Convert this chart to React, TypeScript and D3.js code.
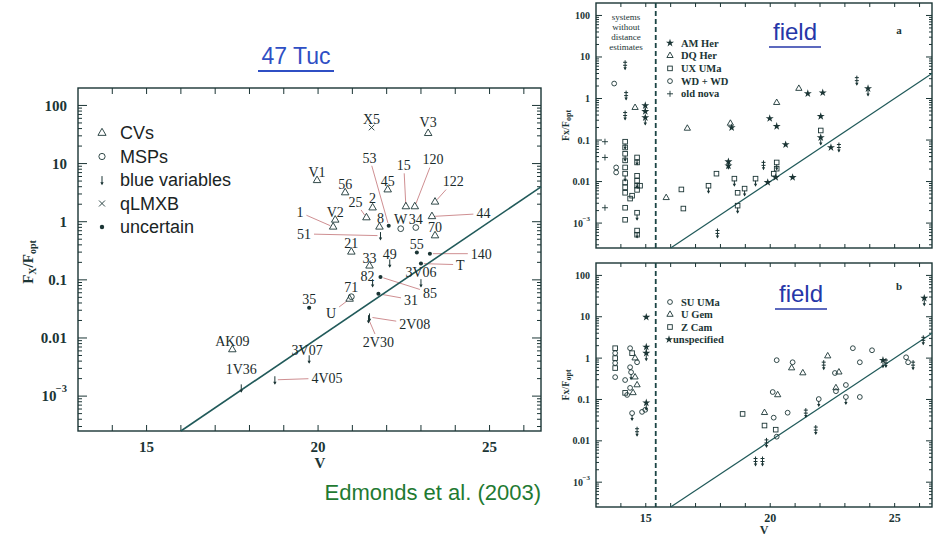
import { useEffect, useRef } from 'react'
import * as d3 from 'd3'

// ---- 47 Tuc panel: sources (label, class, V, log10 Fx/Fopt, label position in data units)
const tucLabels = ['X5', 'V3', 'V1', '56', '45', '2', '25', '53', '8', '15', '120', '122', 'W', '34', '44', '70', '1', 'V2', '51', '21', '33', '49', '55', '140', 'T', '3V06', '85', '82', '31', '71', 'U', '35', '2V08', '2V30', '3V07', '4V05', '1V36', 'AK09']
// t = CV, c = MSP, a = blue variable, x = qLMXB, d = uncertain
const tucClass = ['x', 't', 't', 't', 't', 't', 't', 'd', 't', 't', 't', 't', 'c', 'c', 't', 't', 't', 't', 'a', 't', 't', 'a', 'd', 'd', 'd', 'a', 'd', 'a', 'd', 'c', 't', 'd', 'a', 'a', 'a', 'a', 'a', 't']
const tucV = [21.56, 23.21, 19.97, 20.79, 22.03, 21.59, 21.41, 22.06, 21.79, 22.56, 22.82, 23.41, 22.41, 22.85, 23.32, 23.41, 20.44, 20.5, 21.82, 20.97, 21.5, 22.09, 22.88, 23.26, 23.0, 23.0, 21.82, 21.59, 21.76, 20.97, 20.92, 19.74, 21.5, 21.47, 19.74, 18.74, 17.76, 17.5]
const tucLogR = [1.62, 1.52, 0.71, 0.5, 0.55, 0.24, 0.07, -0.07, -0.09, 0.26, 0.26, 0.34, -0.12, -0.1, 0.09, -0.24, -0.09, 0.03, -0.24, -0.52, -0.76, -0.71, -0.53, -0.55, -0.72, -1.05, -0.95, -1.05, -1.24, -1.29, -1.33, -1.48, -1.64, -1.67, -2.36, -2.72, -2.86, -2.2]
const tucLabelV = [21.56, 23.21, 19.97, 20.79, 22.03, 21.59, 21.09, 21.5, 21.82, 22.5, 23.35, 23.94, 22.41, 22.85, 24.82, 23.41, 19.47, 20.5, 19.59, 20.97, 21.5, 22.09, 22.88, 24.76, 24.15, 23.0, 23.26, 21.44, 22.71, 20.97, 20.38, 19.74, 22.82, 21.76, 19.68, 20.26, 17.76, 17.5]
const tucLabelLogR = [1.76, 1.72, 0.86, 0.64, 0.69, 0.4, 0.34, 1.1, 0.07, 0.97, 1.07, 0.69, 0.05, 0.05, 0.14, -0.1, 0.16, 0.17, -0.21, -0.36, -0.62, -0.55, -0.38, -0.55, -0.74, -0.86, -1.22, -0.93, -1.34, -1.12, -1.57, -1.33, -1.76, -2.07, -2.21, -2.69, -2.53, -2.05]
const tucLeader = ['25', '53', '15', '120', '122', '44', '1', '51', '140', 'T', '85', '31', 'U', '2V08', '2V30', '4V05']
const tucLegend = ['CVs', 'MSPs', 'blue variables', 'qLMXB', 'uncertain']
const tucLegendKeys = ['t', 'c', 'a', 'x', 'd']

// ---- field panels: [V, log10 Fx/Fopt, symbol]; s star, t triangle, q square, c circle, p plus, l limit; 'v' = upper limit arrow
const fieldA: [number, number, string][] = [
  [14.17, 0.8, 'l'], [13.73, 0.36, 'c'], [14.21, 0.07, 'l'], [14.57, -0.22, 't'], [14.17, -0.41, 'l'],
  [14.98, -0.17, 'sv'], [14.98, -0.31, 's'], [14.98, -0.46, 'sv'], [13.36, -1.04, 'p'], [13.36, -1.42, 'p'],
  [13.81, -1.66, 'c'], [13.81, -1.78, 'c'], [14.17, -1.04, 'qv'], [14.17, -1.18, 'q'], [14.17, -1.33, 'qv'],
  [14.17, -1.49, 'q'], [14.17, -1.66, 'q'], [14.17, -1.81, 'qv'], [14.17, -2.02, 'q'], [14.17, -2.14, 'q'],
  [14.17, -2.27, 'q'], [13.36, -2.63, 'p'], [14.17, -2.63, 'q'], [14.17, -2.92, 'q'], [14.65, -1.42, 'qv'],
  [14.65, -1.54, 'q'], [14.65, -1.86, 'q'], [14.65, -1.98, 'qv'], [14.65, -2.1, 'q'], [14.77, -2.1, 'q'],
  [14.65, -2.2, 'q'], [14.45, -2.34, 'q'], [14.37, -2.41, 'q'], [14.65, -2.75, 'qv'], [14.65, -3.18, 'qv'],
  [14.65, -3.28, 'q'],
  [15.82, -2.39, 't'], [16.43, -2.19, 'q'], [16.51, -2.65, 'q'], [16.67, -0.72, 't'], [17.52, -2.1, 'qv'],
  [17.84, -1.81, 'q'], [17.88, -3.25, 'l'], [18.32, -1.52, 'sv'], [18.32, -1.62, 's'], [18.4, -0.6, 't'],
  [18.45, -0.7, 's'], [18.56, -1.93, 'qv'], [18.69, -2.27, 'q'], [18.97, -2.17, 'qv'], [18.69, -2.58, 'qv'],
  [19.41, -1.93, 'qv'], [19.73, -1.61, 'l'], [19.9, -2.02, 's'], [19.98, -0.48, 's'], [20.14, -1.81, 'q'],
  [20.22, -1.9, 's'], [20.26, -1.54, 'qv'], [20.26, -1.69, 'q'], [20.26, -0.1, 't'], [20.26, -0.67, 's'],
  [20.62, -1.11, 's'], [20.9, -1.9, 's'], [21.15, 0.24, 't'], [21.51, 0.12, 's'], [22.03, -0.43, 's'],
  [22.03, -0.77, 'q'], [22.03, -0.94, 'sv'], [22.11, 0.14, 's'], [22.44, -1.18, 's'], [22.76, -1.18, 'l'],
  [23.48, 0.43, 'l'], [23.93, 0.24, 'sv'],
]
const fieldB: [number, number, string][] = [
  [15.02, 0.99, 's'], [13.77, 0.24, 'q'], [13.77, 0.12, 'c'], [13.77, 0.0, 'q'], [13.77, -0.12, 'c'],
  [13.77, -0.24, 'q'], [13.77, -0.46, 'c'], [14.17, -0.53, 'c'], [14.37, 0.24, 'c'], [14.45, 0.12, 'q'],
  [14.57, 0.0, 't'], [14.65, -0.1, 'c'], [14.37, -0.22, 'c'], [14.41, -0.34, 'cv'], [14.57, -0.46, 't'],
  [15.02, 0.27, 'sv'], [15.02, 0.12, 'sv'], [14.17, -0.84, 'q'], [14.37, -0.72, 'c'], [14.25, -0.89, 'c'],
  [14.49, -0.84, 't'], [14.65, -0.65, 't'], [14.45, -1.33, 'cv'], [14.85, -1.3, 'c'], [14.98, -1.25, 'c'],
  [15.02, -1.08, 'sv'], [14.65, -1.78, 'l'],
  [18.89, -1.35, 'q'], [19.41, -2.5, 'l'], [19.69, -2.5, 'l'], [19.77, -1.32, 't'], [19.77, -1.63, 'q'],
  [19.85, -2.05, 'l'], [20.1, -0.82, 'c'], [20.14, -1.44, 'c'], [20.22, -1.73, 'q'], [20.26, -1.9, 'c'],
  [20.26, -0.05, 'c'], [20.3, -0.89, 't'], [20.7, -1.32, 'c'], [20.86, -0.24, 't'], [20.9, -0.1, 'c'],
  [21.31, -0.36, 't'], [21.43, -1.33, 'l'], [21.83, -1.74, 'l'], [21.95, -0.99, 'cv'], [22.15, -0.17, 'l'],
  [22.31, 0.05, 't'], [22.6, -0.36, 'c'], [22.76, -0.34, 't'], [22.64, -0.72, 't'], [22.64, -0.8, 'c'],
  [23.04, -0.65, 'c'], [23.04, -0.94, 'cv'], [23.32, 0.24, 'c'], [23.6, -0.1, 'c'], [23.6, -0.94, 'c'],
  [24.09, 0.19, 'c'], [24.53, -0.05, 'sv'], [24.65, -0.12, 'l'], [25.46, 0.02, 'c'], [25.54, -0.1, 'c'],
  [25.74, -0.17, 'l'], [26.15, 0.43, 'l'], [26.19, 1.45, 'sv'],
]
const legendA = ['AM Her', 'DQ Her', 'UX UMa', 'WD + WD', 'old nova']
const legendAKeys = ['s', 't', 'q', 'c', 'p']
const legendB = ['SU UMa', 'U Gem', 'Z Cam', 'unspecified']
const legendBKeys = ['c', 't', 'q', 's']
const noDistanceText = ['systems', 'without', 'distance', 'estimates']

// shared axes
const vDomain = [13, 26.5]
const vTickLabels = [15, 20, 25]
const logDomain = [-3.6, 2.3]
const decades = [-3, -2, -1, 0, 1, 2]
const decadeLabels = ['10', '0.01', '0.1', '1', '10', '100']
const noDistanceV = 15.4
// X-ray detection limit line
const limitV = [16, 26.5]
const limitLogR = [-3.6, 0.6]

const INK = '#1b3535'
const SERIF = '"Liberation Serif", "DejaVu Serif", serif'
const SANS = '"Liberation Sans", Arial, sans-serif'

type G = d3.Selection<SVGGElement, unknown, null, undefined>

function downArrow(g: G, x: number, y0: number, len: number) {
  g.append('path').attr('d', `M${x},${y0}V${y0 + len - 1}`).attr('stroke', INK).attr('stroke-width', 1)
  g.append('path')
    .attr('d', `M${x - 1.7},${y0 + len - 3}L${x},${y0 + len}L${x + 1.7},${y0 + len - 3}Z`)
    .attr('fill', INK)
}

function marker(g: G, key: string, x: number, y: number, k: number) {
  const t = key[0]
  const sw = 0.9
  if (t === 'c') {
    g.append('circle').attr('cx', x).attr('cy', y).attr('r', 2.4 * k)
      .attr('fill', 'none').attr('stroke', INK).attr('stroke-width', sw)
  } else if (t === 't') {
    g.append('path').attr('d', d3.symbol(d3.symbolTriangle, 17 * k * k)()!)
      .attr('transform', `translate(${x},${y})`)
      .attr('fill', 'none').attr('stroke', INK).attr('stroke-width', sw)
  } else if (t === 'q') {
    g.append('rect').attr('x', x - 2.3 * k).attr('y', y - 2.3 * k)
      .attr('width', 4.6 * k).attr('height', 4.6 * k)
      .attr('fill', 'none').attr('stroke', INK).attr('stroke-width', sw)
  } else if (t === 's') {
    g.append('path').attr('d', d3.symbol(d3.symbolStar, 20 * k * k)()!)
      .attr('transform', `translate(${x},${y})`).attr('fill', INK)
  } else if (t === 'p') {
    g.append('path').attr('d', `M${x - 3 * k},${y}H${x + 3 * k}M${x},${y - 3 * k}V${y + 3 * k}`)
      .attr('stroke', INK).attr('stroke-width', sw)
  } else if (t === 'x') {
    const r = 2.3 * k
    g.append('path').attr('d', `M${x - r},${y - r}L${x + r},${y + r}M${x - r},${y + r}L${x + r},${y - r}`)
      .attr('stroke', INK).attr('stroke-width', sw)
  } else if (t === 'd') {
    g.append('circle').attr('cx', x).attr('cy', y).attr('r', 1.7 * k).attr('fill', INK)
  } else if (t === 'a') {
    downArrow(g, x, y - 3 * k, 7 * k)
  } else if (t === 'l') {
    g.append('path').attr('d', `M${x - 2},${y - 3}H${x + 2}M${x - 2},${y}H${x + 2}`)
      .attr('stroke', INK).attr('stroke-width', 1)
    downArrow(g, x, y - 5, 10)
  }
  if (key.includes('v')) downArrow(g, x, y + 2 * k, 6 * k)
}

function frame(
  g: G,
  x: d3.ScaleLinear<number, number>,
  y: d3.ScaleLogarithmic<number, number>,
  o: { major: number; minor: number; xTick: number; font: number; labelX: number; xLabelY: number | null; xFont: number }
) {
  const [x0, x1] = x.range()
  const [yb, yt] = y.range()
  g.append('rect').attr('x', x0).attr('y', yt).attr('width', x1 - x0).attr('height', yb - yt)
    .attr('fill', 'none').attr('stroke', INK).attr('stroke-width', 1.4)

  const ticks = d3.range(Math.ceil(vDomain[0]) + 1, Math.floor(vDomain[1]) + 1)
  let p = ''
  ticks.forEach((v) => {
    const xx = x(v)
    p += `M${xx},${yb}V${yb - o.xTick}M${xx},${yt}V${yt + o.xTick}`
  })
  const [l0, l1] = y.domain()
  for (let d = -4; d <= 2; d++) {
    for (let m = 1; m <= 9; m++) {
      const val = m * 10 ** d
      if (val <= l0 || val >= l1) continue
      const len = m === 1 ? o.major : o.minor
      const yy = y(val)
      p += `M${x0},${yy}H${x0 + len}M${x1},${yy}H${x1 - len}`
    }
  }
  g.append('path').attr('d', p).attr('stroke', INK).attr('stroke-width', 1).attr('fill', 'none')

  decades.forEach((d, i) => {
    const t = g.append('text').attr('x', o.labelX).attr('y', y(10 ** d)).attr('dy', '0.35em')
      .attr('text-anchor', 'end').attr('font-family', SERIF).attr('font-size', o.font)
      .attr('font-weight', 'bold').attr('fill', INK)
    if (d === -3) {
      t.attr('dx', '-0.7em').text(decadeLabels[i])
      g.append('text').attr('x', o.labelX).attr('y', y(10 ** d) - o.font * 0.25)
        .attr('text-anchor', 'end').attr('font-family', SERIF).attr('font-size', o.font * 0.7)
        .attr('font-weight', 'bold').attr('fill', INK).text('−3')
    } else t.text(decadeLabels[i])
  })

  if (o.xLabelY !== null) {
    vTickLabels.forEach((v) => {
      g.append('text').attr('x', x(v)).attr('y', o.xLabelY!).attr('text-anchor', 'middle')
        .attr('font-family', SERIF).attr('font-size', o.xFont).attr('font-weight', 'bold')
        .attr('fill', INK).text(v)
    })
  }
}

function limitLine(g: G, x: d3.ScaleLinear<number, number>, y: d3.ScaleLogarithmic<number, number>, w: number) {
  const line = d3.line<number>().x((v) => x(v)).y((_, i) => y(10 ** limitLogR[i]))
  g.append('path').attr('d', line(limitV)).attr('stroke', '#215a5a').attr('stroke-width', w).attr('fill', 'none')
}

export default function App() {
  const ref = useRef<SVGSVGElement>(null)

  useEffect(() => {
    if (!ref.current) return
    const svg = d3.select(ref.current)
    svg.selectAll('*').remove()
    const root = svg.append('g') as unknown as G

    // ------------- left: 47 Tuc -------------
    const xL = d3.scaleLinear().domain(vDomain).range([78, 541])
    const yL = d3.scaleLog().domain([10 ** logDomain[0], 10 ** logDomain[1]]).range([431, 88])
    const gl = root.append('g')
    frame(gl, xL, yL, { major: 9, minor: 4, xTick: 6, font: 15, labelX: 67, xLabelY: 452, xFont: 15 })
    limitLine(gl, xL, yL, 1.6)

    // leader lines first, then labels, then markers
    const labelG = gl.append('g')
    tucLabels.forEach((name, i) => {
      const lx = xL(tucLabelV[i])
      const ly = yL(10 ** tucLabelLogR[i])
      const txt = labelG.append('text').attr('x', lx).attr('y', ly).attr('dy', '0.35em')
        .attr('text-anchor', 'middle').attr('font-family', SERIF).attr('font-size', 14)
        .attr('fill', '#1a2b2b').text(name)
      if (tucLeader.includes(name)) {
        const mx = xL(tucV[i])
        const my = yL(10 ** tucLogR[i])
        const w = (txt.node() as SVGTextElement).getComputedTextLength()
        const dx = mx - lx
        const dy = my - ly
        const n = Math.hypot(dx, dy)
        const ux = dx / n
        const uy = dy / n
        const t = Math.min(Math.abs(ux) > 1e-6 ? (w / 2 + 3) / Math.abs(ux) : 1e9, Math.abs(uy) > 1e-6 ? 8 / Math.abs(uy) : 1e9)
        gl.insert('path', ':first-child')
          .attr('d', `M${lx + ux * t},${ly + uy * t}L${mx - ux * 3},${my - uy * 3}`)
          .attr('stroke', '#cf8f92').attr('stroke-width', 1)
      }
    })
    tucLabels.forEach((_, i) => marker(gl, tucClass[i], xL(tucV[i]), yL(10 ** tucLogR[i]), 1.2))

    // legend
    tucLegend.forEach((s, i) => {
      const yy = 133 + i * 23.5
      marker(gl, tucLegendKeys[i], 102, yy, 1.3)
      gl.append('text').attr('x', 120).attr('y', yy).attr('dy', '0.36em')
        .attr('font-family', SANS).attr('font-size', 18).attr('fill', '#1a2424').text(s)
    })

    // axis titles
    const yt = gl.append('text').attr('transform', 'translate(33,262) rotate(-90)')
      .attr('text-anchor', 'middle').attr('font-family', SERIF).attr('font-size', 15)
      .attr('font-weight', 'bold').attr('fill', INK)
    yt.append('tspan').text('F')
    yt.append('tspan').attr('font-size', 10).attr('dy', 3).text('X')
    yt.append('tspan').attr('dy', -3).text('/F')
    yt.append('tspan').attr('font-size', 10).attr('dy', 3).text('opt')
    gl.append('text').attr('x', 320).attr('y', 468).attr('text-anchor', 'middle')
      .attr('font-family', SERIF).attr('font-size', 15).attr('font-weight', 'bold').attr('fill', INK).text('V')

    // title
    gl.append('text').attr('x', 296).attr('y', 64).attr('text-anchor', 'middle')
      .attr('font-family', SANS).attr('font-size', 23).attr('fill', '#2f4fc4').text('47 Tuc')
    gl.append('line').attr('x1', 258).attr('x2', 334).attr('y1', 71).attr('y2', 71)
      .attr('stroke', '#2f4fc4').attr('stroke-width', 2)
    gl.append('text').attr('x', 541).attr('y', 500).attr('text-anchor', 'end')
      .attr('font-family', SANS).attr('font-size', 22).attr('fill', '#1f7a32').text('Edmonds et al. (2003)')

    // ------------- right: field panels -------------
    const xR = d3.scaleLinear().domain(vDomain).range([596, 932])
    const panels: [number, number, [number, number, string][], string, string[], string[]][] = [
      [3, 248, fieldA, 'a', legendA, legendAKeys],
      [263, 507, fieldB, 'b', legendB, legendBKeys],
    ]
    panels.forEach(([top, bottom, pts, tag, leg, legKeys], pi) => {
      const y = d3.scaleLog().domain([10 ** logDomain[0], 10 ** logDomain[1]]).range([bottom, top])
      const g = root.append('g')
      frame(g, xR, y, { major: 6, minor: 3, xTick: 4, font: 10, labelX: 590, xLabelY: pi === 1 ? 522 : null, xFont: 12 })
      g.append('line').attr('x1', xR(noDistanceV)).attr('x2', xR(noDistanceV)).attr('y1', top).attr('y2', bottom)
        .attr('stroke', '#1b4545').attr('stroke-width', 1.8).attr('stroke-dasharray', '5,3')
      limitLine(g, xR, y, 1.2)
      pts.forEach(([v, lr, k]) => marker(g, k, xR(v), y(10 ** lr), 1))

      // legend
      leg.forEach((s, i) => {
        const yy = (pi === 0 ? 43 : 302) + i * (pi === 0 ? 12.7 : 12.5)
        const special = s === 'unspecified'
        marker(g, legKeys[i], special ? 669 : 670, yy, 1)
        g.append('text').attr('x', special ? 673 : 681).attr('y', yy).attr('dy', '0.35em')
          .attr('font-family', SERIF).attr('font-size', 10.5).attr('font-weight', 'bold')
          .attr('fill', INK).text(s)
      })

      g.append('text').attr('x', 899).attr('y', (pi === 0 ? 30 : 286)).attr('dy', '0.35em')
        .attr('text-anchor', 'middle').attr('font-family', SERIF).attr('font-size', 11)
        .attr('font-weight', 'bold').attr('fill', INK).text(tag)

      const fx = pi === 0 ? 795 : 801
      const fy = pi === 0 ? 40 : 302
      g.append('text').attr('x', fx).attr('y', fy).attr('text-anchor', 'middle')
        .attr('font-family', SANS).attr('font-size', 24).attr('fill', '#2637a8').text('field')
      g.append('line').attr('x1', fx - 26).attr('x2', fx + 26).attr('y1', fy + 7).attr('y2', fy + 7)
        .attr('stroke', '#2637a8').attr('stroke-width', 1.6)

      const yl = g.append('text').attr('transform', `translate(569,${(top + bottom) / 2}) rotate(-90)`)
        .attr('text-anchor', 'middle').attr('font-family', SERIF).attr('font-size', 10)
        .attr('font-weight', 'bold').attr('fill', INK)
      yl.append('tspan').text('Fx/F')
      yl.append('tspan').attr('font-size', 8).attr('dy', 2).text('opt')
    })

    noDistanceText.forEach((s, i) => {
      root.append('text').attr('x', 626).attr('y', 17 + i * 10).attr('dy', '0.35em')
        .attr('text-anchor', 'middle').attr('font-family', SERIF).attr('font-size', 9)
        .attr('fill', INK).text(s)
    })
    root.append('text').attr('x', 764).attr('y', 534).attr('text-anchor', 'middle')
      .attr('font-family', SERIF).attr('font-size', 12).attr('font-weight', 'bold').attr('fill', INK).text('V')
  }, [])

  return (
    <svg
      ref={ref}
      width={939}
      height={538}
      viewBox="0 0 939 538"
      style={{ position: 'absolute', left: 0, top: 0, background: '#fff' }}
    />
  )
}
